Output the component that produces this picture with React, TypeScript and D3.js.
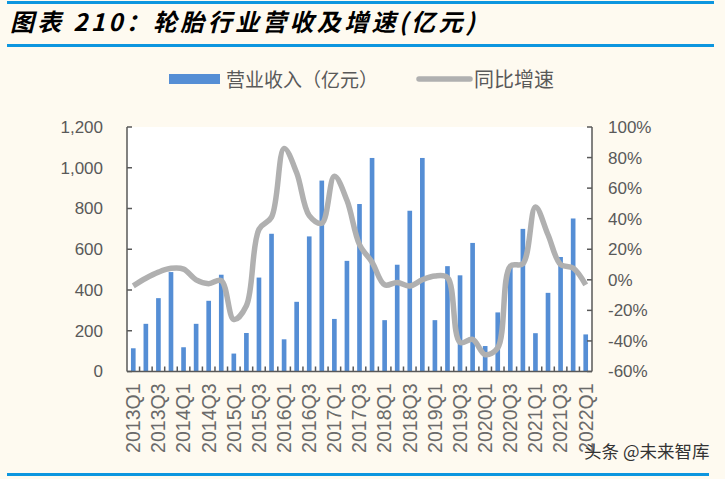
import { useEffect, useRef } from "react";
import * as d3 from "d3";

const quarters = [
  "2013Q1", "2013Q2", "2013Q3", "2013Q4", "2014Q1", "2014Q2", "2014Q3", "2014Q4",
  "2015Q1", "2015Q2", "2015Q3", "2015Q4", "2016Q1", "2016Q2", "2016Q3", "2016Q4",
  "2017Q1", "2017Q2", "2017Q3", "2017Q4", "2018Q1", "2018Q2", "2018Q3", "2018Q4",
  "2019Q1", "2019Q2", "2019Q3", "2019Q4", "2020Q1", "2020Q2", "2020Q3", "2020Q4",
  "2021Q1", "2021Q2", "2021Q3", "2021Q4", "2022Q1",
];

// 营业收入（亿元）
const revenue = [
  114, 234, 360, 488, 119, 234, 347, 475,
  88, 189, 461, 676, 158, 342, 663, 937,
  258, 543, 822, 1048, 252, 524, 789, 1048,
  252, 517, 472, 631, 125, 290, 510, 700,
  188, 386, 562, 751, 182,
];

// 同比增速 (%)
const growth = [
  -4, 1, 5, 7.5, 7, 0, -2.5, -0.5,
  -26, -17, 33, 41, 86, 70, 42, 37,
  67.7, 52, 23, 11.5, -3.3, -1.7, -4, 0,
  2.5, 1.5, -41, -39, -49, -44.5, 9, 10.5,
  47.7, 29.5, 10, 7.7, -3.3,
];

const leftTicks = [0, 200, 400, 600, 800, 1000, 1200];
const rightTicks = [-60, -40, -20, 0, 20, 40, 60, 80, 100];

const W = 725;
const H = 479;
const FONT = "'Noto Sans CJK SC', 'Noto Sans', sans-serif";
const NUM_FONT = "Arial, 'Liberation Sans', sans-serif";

export default function App() {
  const svgRef = useRef<SVGSVGElement>(null);

  useEffect(() => {
    const svg = d3.select(svgRef.current);
    svg.selectAll("*").remove();

    const left = 127, right = 592, top = 127, bottom = 371.5;

    svg.append("rect").attr("width", W).attr("height", H).attr("fill", "#fefaf0");

    // title block
    svg.append("line").attr("x1", 7).attr("x2", 714).attr("y1", 2.5).attr("y2", 2.5)
      .attr("stroke", "#0d96df").attr("stroke-width", 3);
    svg.append("line").attr("x1", 7).attr("x2", 714).attr("y1", 45.5).attr("y2", 45.5)
      .attr("stroke", "#0d96df").attr("stroke-width", 3);
    svg.append("text")
      .attr("x", 10).attr("y", 31)
      .attr("font-family", FONT)
      .attr("font-size", 24)
      .attr("font-weight", "bold")
      .attr("font-style", "italic")
      .attr("letter-spacing", 3.3)
      .attr("fill", "#000")
      .text("图表 210：轮胎行业营收及增速(亿元)");

    // plot area
    svg.append("rect").attr("x", left).attr("y", top)
      .attr("width", right - left).attr("height", bottom - top).attr("fill", "#fff");

    const x = d3.scaleBand().domain(quarters).range([left, right]).paddingInner(0.63).paddingOuter(0.315);
    const xc = d3.scaleBand().domain(quarters).range([left, right]);
    const yL = d3.scaleLinear().domain([0, 1200]).range([bottom, top]);
    const yR = d3.scaleLinear().domain([-60, 100]).range([bottom, top]);

    svg.append("g").selectAll("rect").data(revenue).join("rect")
      .attr("x", (_, i) => x(quarters[i])!)
      .attr("width", x.bandwidth())
      .attr("y", d => yL(d))
      .attr("height", d => bottom - yL(d))
      .attr("fill", "#558ed5");

    const line = d3.line<number>()
      .x((_, i) => xc(quarters[i])! + xc.bandwidth() / 2)
      .y(d => yR(d))
      .curve(d3.curveCatmullRom.alpha(0.5));

    svg.append("path").datum(growth)
      .attr("d", line)
      .attr("fill", "none")
      .attr("stroke", "#b0b0b0")
      .attr("stroke-width", 5.5)
      .attr("stroke-linejoin", "round");

    const axisColor = "#595959";
    const textColor = "#595959";

    // left axis
    const gl = svg.append("g");
    gl.append("line").attr("x1", left).attr("x2", left).attr("y1", top).attr("y2", bottom)
      .attr("stroke", axisColor).attr("stroke-width", 1.5);
    gl.selectAll("line.t").data(leftTicks).join("line").attr("class", "t")
      .attr("x1", left).attr("x2", left + 5)
      .attr("y1", d => yL(d)).attr("y2", d => yL(d))
      .attr("stroke", axisColor).attr("stroke-width", 1.5);
    gl.selectAll("text").data(leftTicks).join("text")
      .attr("x", 103).attr("y", d => yL(d)).attr("dy", "0.35em")
      .attr("text-anchor", "end")
      .attr("font-family", NUM_FONT)
      .attr("font-size", 17).attr("fill", textColor)
      .text(d => d3.format(",")(d));

    // right axis
    const gr = svg.append("g");
    gr.append("line").attr("x1", right).attr("x2", right).attr("y1", top).attr("y2", bottom)
      .attr("stroke", axisColor).attr("stroke-width", 1.5);
    gr.selectAll("line.t").data(rightTicks).join("line").attr("class", "t")
      .attr("x1", right - 5).attr("x2", right)
      .attr("y1", d => yR(d)).attr("y2", d => yR(d))
      .attr("stroke", axisColor).attr("stroke-width", 1.5);
    gr.selectAll("text").data(rightTicks).join("text")
      .attr("x", 608).attr("y", d => yR(d)).attr("dy", "0.35em")
      .attr("text-anchor", "start")
      .attr("font-family", NUM_FONT)
      .attr("font-size", 17).attr("fill", textColor)
      .text(d => `${d}%`);

    // bottom axis
    const gb = svg.append("g");
    gb.append("line").attr("x1", left).attr("x2", right).attr("y1", bottom).attr("y2", bottom)
      .attr("stroke", axisColor).attr("stroke-width", 1.5);
    gb.selectAll("line.t").data(quarters.slice(1)).join("line").attr("class", "t")
      .attr("x1", d => xc(d)!).attr("x2", d => xc(d)!)
      .attr("y1", bottom).attr("y2", bottom - 5)
      .attr("stroke", axisColor).attr("stroke-width", 1.5);
    gb.selectAll("text").data(quarters.filter((_, i) => i % 2 === 0)).join("text")
      .attr("transform", d => `translate(${xc(d)! + xc.bandwidth() / 2},${bottom + 12}) rotate(-90)`)
      .attr("dy", "0.35em")
      .attr("text-anchor", "end")
      .attr("font-family", NUM_FONT)
      .attr("font-size", 19.5).attr("fill", "#6a6a6a")
      .text(d => d);

    // legend
    const lg = svg.append("g");
    lg.append("rect").attr("x", 169).attr("y", 74).attr("width", 51).attr("height", 10).attr("fill", "#558ed5");
    lg.append("text").attr("x", 226).attr("y", 80).attr("dy", "0.35em")
      .attr("font-family", FONT).attr("font-size", 19).attr("fill", textColor)
      .text("营业收入（亿元）");
    lg.append("line").attr("x1", 419).attr("x2", 470).attr("y1", 79).attr("y2", 79)
      .attr("stroke", "#b0b0b0").attr("stroke-width", 5.5).attr("stroke-linecap", "round");
    lg.append("text").attr("x", 474).attr("y", 80).attr("dy", "0.35em")
      .attr("font-family", FONT).attr("font-size", 20).attr("fill", textColor)
      .text("同比增速");

    // watermark and bottom rule
    svg.append("text").attr("x", 584).attr("y", 452).attr("dy", "0.35em")
      .attr("font-family", FONT).attr("font-size", 17.5).attr("fill", "#333")
      .text("头条 @未来智库");
    svg.append("line").attr("x1", 7).attr("x2", 709).attr("y1", 474.5).attr("y2", 474.5)
      .attr("stroke", "#0d96df").attr("stroke-width", 3);
  }, []);

  return (
    <svg
      ref={svgRef}
      width={W}
      height={H}
      style={{ position: "absolute", left: 0, top: 0 }}
    />
  );
}
